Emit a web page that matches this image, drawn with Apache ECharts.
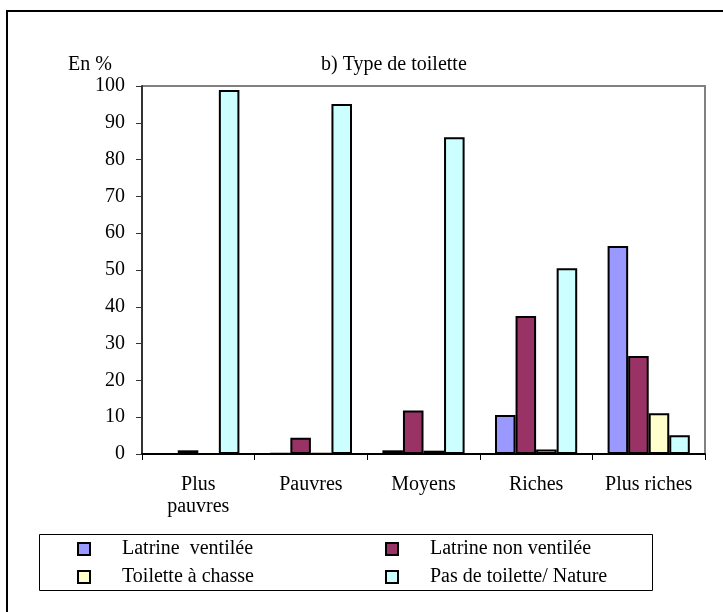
<!DOCTYPE html>
<html>
<head>
<meta charset="utf-8">
<script src="https://cdn.jsdelivr.net/npm/echarts@6/dist/echarts.min.js"></script>
<style>html,body{margin:0;padding:0;background:#fff}#c{width:723px;height:612px}</style>
</head>
<body>
<div id="c"></div>
<script>
const categories = ['Plus\npauvres', 'Pauvres', 'Moyens', 'Riches', 'Plus riches'];
const seriesNames = ['Latrine  ventilée', 'Latrine non ventilée', 'Toilette à chasse', 'Pas de toilette/ Nature'];
const latrineVentilee = [0, 0.2, 1.0, 10.6, 56.5];
const latrineNonVentilee = [1.0, 4.4, 11.8, 37.5, 26.6];
const toiletteChasse = [0, 0.2, 0.9, 1.2, 11.1];
const pasDeToilette = [98.9, 95.1, 86.1, 50.5, 5.1];
const yTicks = [0, 10, 20, 30, 40, 50, 60, 70, 80, 90, 100];
const colors = ['#9999FF', '#993366', '#FFFFCC', '#CCFFFF'];
const values = [latrineVentilee, latrineNonVentilee, toiletteChasse, pasDeToilette];

const FONT = 'Liberation Serif';
const FS = 20;

const legendPos = [
  {left: 77, top: 539}, {left: 385, top: 539},
  {left: 77, top: 567}, {left: 385, top: 567}
];

const chart = echarts.init(document.getElementById('c'), null, {renderer: 'canvas'});
chart.setOption({
  animation: false,
  backgroundColor: '#fff',
  textStyle: {fontFamily: FONT, color: '#000'},
  title: [
    {text: 'b) Type de toilette', left: 316, top: 50,
     textStyle: {fontFamily: FONT, fontSize: FS, fontWeight: 'normal', color: '#000'}},
    {text: 'En %', left: 63, top: 50,
     textStyle: {fontFamily: FONT, fontSize: FS, fontWeight: 'normal', color: '#000'}}
  ],
  graphic: [
    {type: 'rect', shape: {x: 7, y: 11, width: 800, height: 700}, style: {fill: 'none', stroke: '#000', lineWidth: 2}, silent: true},
    {type: 'rect', shape: {x: 39.5, y: 534.5, width: 613, height: 56}, style: {fill: 'none', stroke: '#000', lineWidth: 1}, silent: true},
    {type: 'polyline', shape: {points: [[142, 86], [705, 86], [705, 454]]}, style: {fill: 'none', stroke: '#808080', lineWidth: 2}, silent: true}
  ],
  legend: seriesNames.map((n, i) => ({
    data: [{name: n, itemStyle: {color: colors[i], borderColor: '#000', borderWidth: 2}}],
    left: legendPos[i].left, top: legendPos[i].top,
    padding: 0, icon: 'rect', itemWidth: 12, itemHeight: 12, selectedMode: false,
    textStyle: {fontFamily: FONT, fontSize: FS, color: '#000', padding: [0, 0, 0, 27]}
  })),
  grid: {left: 142, right: 18, top: 86, bottom: 158, containLabel: false},
  xAxis: {
    type: 'category', data: categories, boundaryGap: true,
    axisLine: {lineStyle: {color: '#000', width: 2}},
    axisTick: {show: true, alignWithLabel: false, length: 6, lineStyle: {color: '#000', width: 1}},
    axisLabel: {fontFamily: FONT, fontSize: FS, color: '#000', margin: 20, lineHeight: 22, interval: 0},
    splitLine: {show: false}
  },
  yAxis: {
    type: 'value', min: 0, max: 100, interval: 10,
    axisLine: {show: true, lineStyle: {color: '#333', width: 2}},
    axisTick: {show: true, length: 6, lineStyle: {color: '#333', width: 1}},
    axisLabel: {fontFamily: FONT, fontSize: FS, color: '#000', margin: 17,
      formatter: v => yTicks.includes(v) ? String(v) : ''},
    splitLine: {show: false}
  },
  series: seriesNames.map((n, i) => ({
    name: n, type: 'bar', data: values[i],
    barGap: '0%', barCategoryGap: '27%',
    itemStyle: {color: colors[i], borderColor: '#000', borderWidth: 2},
    emphasis: {disabled: true}
  }))
});
</script>
</body>
</html>
